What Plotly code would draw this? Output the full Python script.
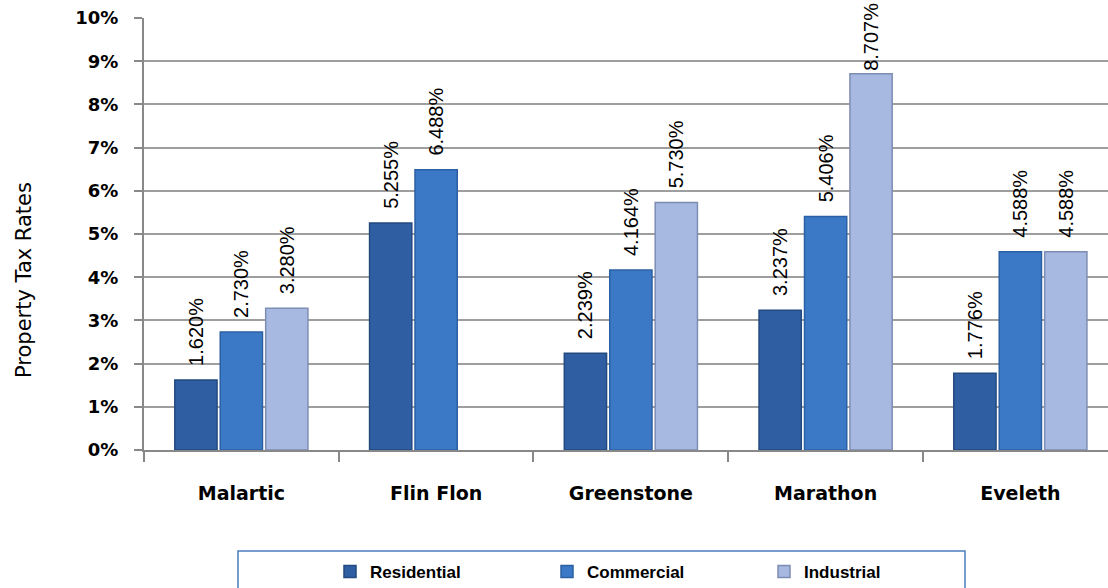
import plotly.graph_objects as go

towns = ["Malartic", "Flin Flon", "Greenstone", "Marathon", "Eveleth"]
residential = [0.01620, 0.05255, 0.02239, 0.03237, 0.01776]
commercial = [0.02730, 0.06488, 0.04164, 0.05406, 0.04588]
industrial = [0.03280, None, 0.05730, 0.08707, 0.04588]

series = [
    ("Residential", residential, "#2F5FA2", "#234A80"),
    ("Commercial", commercial, "#3B79C6", "#2C60A4"),
    ("Industrial", industrial, "#A7B9E0", "#7E8DB3"),
]

PAD = "\u00a0\u00a0"


def label(v):
    if v is None:
        return ""
    s = f"{v * 100:.3f}%"
    # labels that would run past the top of the chart get no extra gap
    return s if v > 0.08 else PAD + s


fig = go.Figure()
for name, vals, col, edge in series:
    fig.add_trace(go.Bar(
        name=name, x=towns, y=vals,
        marker=dict(color=col, line=dict(color=edge, width=1.5)),
        text=[label(v) for v in vals], texttemplate="%{text}",
        textposition="outside", textangle=-90,
        textfont=dict(family="Liberation Sans", size=20, color="#000000"),
        cliponaxis=False, constraintext="none",
    ))

W, H = 1108, 588
L, T, B, R = 144, 18, 138, 0
pw = W - L - R
ph = H - T - B


def px_x(p):
    return (p - L) / pw


def px_y(p):
    return (T + ph - p) / ph


fig.update_layout(
    width=W, height=H,
    margin=dict(l=L, r=R, t=T, b=B, autoexpand=False),
    paper_bgcolor="white", plot_bgcolor="white",
    barmode="group", bargap=0.30, bargroupgap=0.07,
    showlegend=True,
    legend=dict(
        orientation="h", x=px_x(330), y=px_y(572), xanchor="left", yanchor="middle",
        entrywidth=172, entrywidthmode="pixels",
        font=dict(family="Liberation Sans", size=17, color="#000000", weight="bold"),
        bgcolor="rgba(0,0,0,0)", borderwidth=0,
    ),
    shapes=[dict(
        type="rect", xref="paper", yref="paper",
        x0=px_x(238), x1=px_x(965), y0=px_y(551), y1=px_y(600),
        line=dict(color="#4A7EBB", width=1.5), fillcolor="rgba(0,0,0,0)",
    )],
    annotations=[dict(
        text="Property Tax Rates", textangle=-90, xref="paper", yref="paper",
        x=px_x(24), y=px_y(280), xanchor="center", yanchor="middle", showarrow=False,
        font=dict(family="DejaVu Sans", size=21, color="#000000"),
    )],
    xaxis=dict(
        range=[-0.5, 4.45], showline=True, linecolor="#888888", linewidth=2,
        ticks="outside", tickson="boundaries", ticklen=10, tickcolor="#888888",
        tickwidth=1.5, ticklabelstandoff=25, showgrid=False,
        tickfont=dict(family="DejaVu Sans", size=19, color="#000000", weight="bold"),
    ),
    yaxis=dict(
        range=[0, 0.10], dtick=0.01, tickformat=".0%",
        showline=True, linecolor="#888888", linewidth=2,
        showgrid=True, gridcolor="#9E9E9E", gridwidth=1.5,
        ticks="outside", ticklen=8, tickcolor="#888888", tickwidth=1.5,
        ticklabelstandoff=12,
        tickfont=dict(family="DejaVu Sans", size=18, color="#000000", weight="bold"),
        zeroline=False,
    ),
)

fig.write_html("out.html")
